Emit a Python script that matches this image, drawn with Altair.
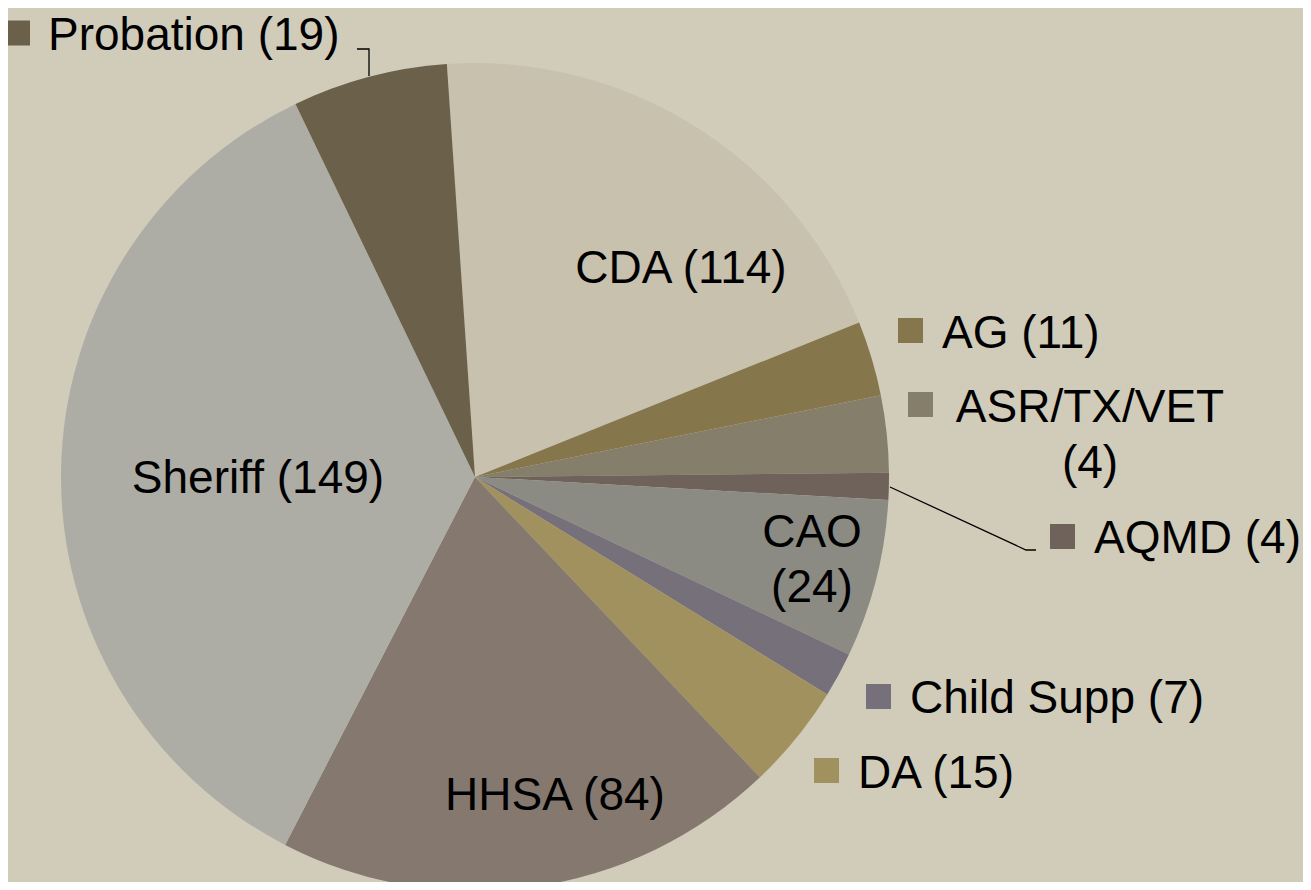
import math
import altair as alt
import pandas as pd

# ---- data ----
categories = ["CDA", "AG", "ASR/TX/VET", "AQMD", "CAO", "Child Supp", "DA", "HHSA", "Sheriff", "Probation"]
counts = [114, 11, 4, 4, 24, 7, 15, 84, 149, 19]
# slice sizes as drawn (degrees of the circle)
slice_share = [72.0, 10.5, 10.8, 3.8, 22.2, 6.3, 14.8, 70.8, 127.0, 21.8]
slice_colors = ["#C8C1AE", "#85764C", "#857E6B", "#6E625B", "#8B8B84",
                "#76707A", "#A0915E", "#85786F", "#ADADA6", "#6B614B"]

# ---- layout (styles / positions, kept apart from data) ----
W, H = 1295, 874
CX, CY, R = 467, 469, 414
START_DEG = -3.9
FONT = "Liberation Sans"
FS = 46
BG = "#D1CCBA"

# inside labels (centered): category index, x, baseline y, line
inside_layout = [
    (0, 673, 275, "{c} ({n})"),
    (8, 250, 485, "{c} ({n})"),
    (7, 547, 802, "{c} ({n})"),
    (4, 804, 539, "{c}"),
    (4, 804, 594, "({n})"),
    (2, 1082, 414, "{c}"),
    (2, 1082, 470, "({n})"),
]
# outside labels (left aligned) with legend squares: index, text x, baseline y, square cx, square cy
outside_layout = [
    (1, 934, 340, 902.5, 322.5),
    (3, 1086, 545, 1054.5, 528.5),
    (5, 902, 705, 870.5, 688.5),
    (6, 850, 780, 818.5, 762.5),
    (9, 40, 42, 9.5, 25),
]
square_only = [(2, 912.5, 396.5)]
leader_lines = {
    "Probation": [(349, 41), (361, 41), (361, 68)],
    "AQMD": [(882, 479), (1018, 542), (1028, 542)],
}

pie_df = pd.DataFrame({
    "cat": categories,
    "share": slice_share,
    "color": slice_colors,
    "idx": list(range(len(categories))),
})

start = math.radians(START_DEG)
pie = alt.Chart(pie_df).mark_arc(outerRadius=R).encode(
    theta=alt.Theta("share:Q", stack=True, scale=alt.Scale(range=[start, start + 2 * math.pi])),
    color=alt.Color("color:N", scale=None, legend=None),
    order=alt.Order("idx:Q"),
    x=alt.value(CX),
    y=alt.value(CY),
)

in_df = pd.DataFrame([
    {"x": x, "y": y, "t": fmt.format(c=categories[i], n=counts[i])}
    for i, x, y, fmt in inside_layout
])
out_df = pd.DataFrame([
    {"x": x, "y": y, "t": f"{categories[i]} ({counts[i]})"}
    for i, x, y, sx, sy in outside_layout
])
sq_df = pd.DataFrame(
    [{"x": sx, "y": sy, "color": slice_colors[i]} for i, x, y, sx, sy in outside_layout]
    + [{"x": sx, "y": sy, "color": slice_colors[i]} for i, sx, sy in square_only]
)
ln_df = pd.DataFrame([
    {"seg": k, "o": j, "x": p[0], "y": p[1]}
    for k, pts in leader_lines.items() for j, p in enumerate(pts)
])

def X(f="x"):
    return alt.X(f + ":Q", scale=None, axis=None)

def Y(f="y"):
    return alt.Y(f + ":Q", scale=None, axis=None)

txt_in = alt.Chart(in_df).mark_text(
    align="center", baseline="alphabetic", font=FONT, fontSize=FS, color="#000000"
).encode(x=X(), y=Y(), text="t:N")

txt_out = alt.Chart(out_df).mark_text(
    align="left", baseline="alphabetic", font=FONT, fontSize=FS, color="#000000"
).encode(x=X(), y=Y(), text="t:N")

squares = alt.Chart(sq_df).mark_square(size=625, opacity=1, filled=True).encode(
    x=X(), y=Y(), color=alt.Color("color:N", scale=None, legend=None)
)

lines = alt.Chart(ln_df).mark_line(color="#000000", strokeWidth=1.3).encode(
    x=X(), y=Y(), detail="seg:N", order="o:Q"
)

chart = alt.layer(pie, lines, squares, txt_in, txt_out).properties(
    width=W, height=H, autosize=alt.AutoSizeParams(type="none"), padding=0
).configure(background=BG).configure_view(stroke=None)

chart.save("out.html", embed_options={"renderer": "svg", "actions": False})
